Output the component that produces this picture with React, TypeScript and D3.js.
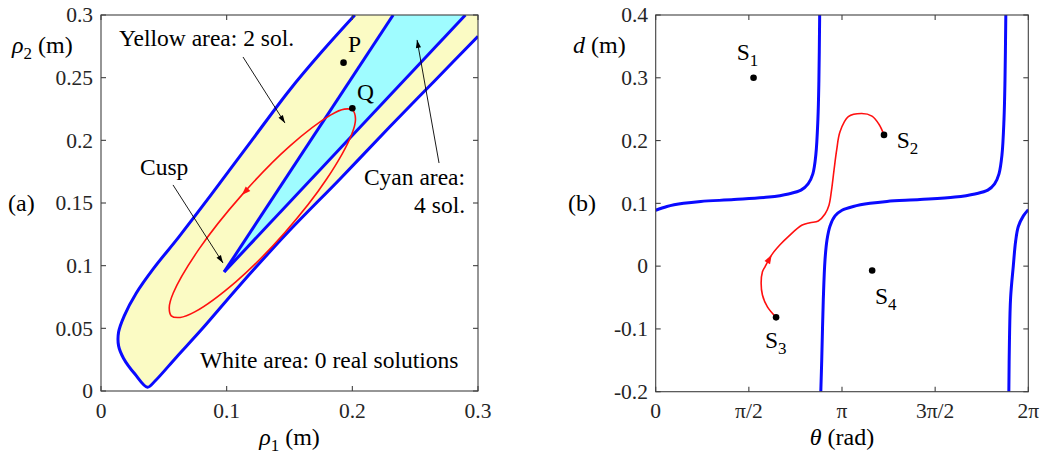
import React from "react";
import * as d3 from "d3";

type P = [number, number];

// ---------- panel (a): rho1 / rho2 (m) ----------
const outerUpper: P[] = [
  [0.202, 0.3], [0.176, 0.271], [0.15, 0.24], [0.12, 0.2], [0.088, 0.157],
  [0.062, 0.123], [0.042, 0.098], [0.028, 0.078], [0.0185, 0.06], [0.014, 0.047],
  [0.014, 0.036], [0.018, 0.026], [0.027, 0.0135], [0.037, 0.003],
];
const outerLower: P[] = [
  [0.043, 0.008], [0.06, 0.027], [0.08, 0.049], [0.111, 0.085], [0.15, 0.128],
  [0.19, 0.169], [0.23, 0.211], [0.265, 0.247], [0.3, 0.283],
];
const cusp: P = [0.098, 0.095];
const cyanUpperTop: P = [0.2325, 0.3];
const cyanLowerTop: P = [0.29, 0.3];

// closed red loop, starting at Q and running down the upper side
const loop: P[] = [
  [0.2003, 0.224], [0.1937, 0.2249], [0.1826, 0.2201], [0.1502, 0.1954],
  [0.112, 0.1563], [0.0781, 0.1134], [0.0575, 0.0782], [0.0543, 0.0665],
  [0.0559, 0.06], [0.063, 0.0587], [0.0746, 0.0631], [0.1075, 0.0873],
  [0.146, 0.1261], [0.1797, 0.1693], [0.1996, 0.2051], [0.2025, 0.2171],
];
const ptP: P = [0.193, 0.262];
const ptQ: P = [0.2, 0.2256];

const aXTicks = [0, 0.1, 0.2, 0.3];
const aYTicks = [0, 0.05, 0.1, 0.15, 0.2, 0.25, 0.3];

// ---------- panel (b): theta (rad) / d (m) ----------
const branchLeft: P[] = [
  [0, 0.089], [0.19, 0.095], [0.47, 0.1], [0.76, 0.103], [1.32, 0.106], [1.91, 0.11],
  [2.24, 0.115], [2.45, 0.121], [2.57, 0.131], [2.65, 0.147], [2.7, 0.177],
  [2.735, 0.233], [2.752, 0.296], [2.765, 0.4],
];
const branchMid: P[] = [
  [2.784, -0.2], [2.8, -0.149], [2.826, -0.054], [2.855, 0.01], [2.889, 0.042],
  [2.94, 0.064], [3.024, 0.08], [3.142, 0.089], [3.332, 0.095], [3.614, 0.1],
  [3.9, 0.103], [4.457, 0.106], [5.047, 0.11], [5.384, 0.115], [5.6, 0.121],
  [5.715, 0.131], [5.789, 0.147], [5.839, 0.177], [5.873, 0.233], [5.89, 0.296],
  [5.904, 0.4],
];
const branchRight: P[] = [
  [5.955, -0.2], [5.965, -0.12], [5.985, -0.05], [6.03, 0.0], [6.07, 0.04],
  [6.115, 0.063], [6.2, 0.08], [6.283, 0.09],
];
const redPath: P[] = [
  [2.03, -0.0816], [1.884, -0.065], [1.8, -0.046], [1.778, -0.027], [1.8, -0.009],
  [1.843, -0.001], [1.956, 0.018], [2.096, 0.034], [2.236, 0.047], [2.462, 0.065],
  [2.602, 0.069], [2.742, 0.072], [2.855, 0.083], [2.922, 0.097], [2.965, 0.121],
  [3.007, 0.153], [3.052, 0.185], [3.108, 0.214], [3.248, 0.238], [3.474, 0.243],
  [3.647, 0.239], [3.765, 0.226], [3.85, 0.209],
];
const sPoints: P[] = [[1.65, 0.3], [3.85, 0.209], [2.03, -0.0816], [3.65, -0.007]];
const sLabels: P[] = [[1.366, 0.328], [4.064, 0.188], [1.843, -0.13], [3.698, -0.06]];

const bXTicks = [0, Math.PI / 2, Math.PI, (3 * Math.PI) / 2, 2 * Math.PI];
const bXTickLabels = ["0", "π/2", "π", "3π/2", "2π"];
const bYTicks = [-0.2, -0.1, 0, 0.1, 0.2, 0.3, 0.4];

// ---------- scales ----------
const xA = d3.scaleLinear().domain([0, 0.3]).range([101, 478]);
const yA = d3.scaleLinear().domain([0, 0.3]).range([391, 15]);
const xB = d3.scaleLinear().domain([0, 2 * Math.PI]).range([655.7, 1028.3]);
const yB = d3.scaleLinear().domain([-0.2, 0.4]).range([391.7, 15]);

const FONT = "Liberation Serif, Times New Roman, serif";
const BLUE = "#0a0aff";
const RED = "#ff1010";
const AXIS = "#404040";

const lineA = d3.line<P>().x((d) => xA(d[0])).y((d) => yA(d[1])).curve(d3.curveCatmullRom.alpha(0.5));
const polyA = d3.line<P>().x((d) => xA(d[0])).y((d) => yA(d[1]));
const loopA = d3.line<P>().x((d) => xA(d[0])).y((d) => yA(d[1])).curve(d3.curveCatmullRomClosed.alpha(0.5));
const lineB = d3.line<P>().x((d) => xB(d[0])).y((d) => yB(d[1])).curve(d3.curveCatmullRom.alpha(0.5));

function head(tip: P, from: P, len: number, half: number) {
  const dx = tip[0] - from[0], dy = tip[1] - from[1];
  const n = Math.hypot(dx, dy) || 1;
  const ux = dx / n, uy = dy / n;
  const bx = tip[0] - ux * len, by = tip[1] - uy * len;
  return `M${tip[0]},${tip[1]}L${bx - uy * half},${by + ux * half}L${bx + uy * half},${by - ux * half}Z`;
}

function Arrow({ from, to }: { from: P; to: P }) {
  const a: P = [xA(from[0]), yA(from[1])];
  const b: P = [xA(to[0]), yA(to[1])];
  return (
    <g>
      <line x1={a[0]} y1={a[1]} x2={b[0]} y2={b[1]} stroke="#000" strokeWidth={0.9} />
      <path d={head(b, a, 8, 2.6)} fill="#000" />
    </g>
  );
}

function Frame({ x, y, xt, yt }: { x: any; y: any; xt: number[]; yt: number[] }) {
  const [x0, x1] = x.range();
  const [y0, y1] = y.range();
  const t = 5;
  return (
    <g stroke={AXIS} strokeWidth={1.1} fill="none">
      <rect x={x0} y={y1} width={x1 - x0} height={y0 - y1} />
      {xt.map((v, i) => (
        <g key={"x" + i}>
          <line x1={x(v)} x2={x(v)} y1={y0} y2={y0 - t} />
          <line x1={x(v)} x2={x(v)} y1={y1} y2={y1 + t} />
        </g>
      ))}
      {yt.map((v, i) => (
        <g key={"y" + i}>
          <line x1={x0} x2={x0 + t} y1={y(v)} y2={y(v)} />
          <line x1={x1} x2={x1 - t} y1={y(v)} y2={y(v)} />
        </g>
      ))}
    </g>
  );
}

export default function App() {
  const outer = [...outerUpper, ...outerLower];
  const last = outerLower[outerLower.length - 1];
  const first = outerUpper[0];
  const yellowD =
    lineA(outer) + `L${xA(last[0]) + 2},${yA(last[1])}L${xA(last[0]) + 2},${yA(first[1]) - 2}L${xA(first[0])},${yA(first[1]) - 2}Z`;
  const cyanD = polyA([cusp, cyanUpperTop, cyanLowerTop]) + "Z";

  const la: P = [xA(loop[4][0]), yA(loop[4][1])];
  const lb: P = [xA(loop[3][0]), yA(loop[3][1])];
  const ra: P = [xB(redPath[6][0]), yB(redPath[6][1])];
  const rb: P = [xB(redPath[5][0]), yB(redPath[5][1])];

  const tickFs = 21.5;
  const annFs = 23.5;
  const labFs = 24;

  return (
    <svg width={1048} height={457} style={{ position: "absolute", left: 0, top: 0, background: "#fff", fontFamily: FONT }}>
      <defs>
        <clipPath id="clipA">
          <rect x={101} y={15} width={377} height={376} />
        </clipPath>
        <clipPath id="clipB">
          <rect x={655.7} y={15} width={372.6} height={376.7} />
        </clipPath>
      </defs>

      {/* ---------- panel (a) ---------- */}
      <g clipPath="url(#clipA)">
        <path d={yellowD} fill="#fbfbc4" />
        <path d={cyanD} fill="#9ffcff" />
        <path d={lineA(outer) ?? ""} fill="none" stroke={BLUE} strokeWidth={3} strokeLinejoin="round" />
        <path d={polyA([cusp, cyanUpperTop]) ?? ""} fill="none" stroke={BLUE} strokeWidth={3} />
        <path d={polyA([cusp, cyanLowerTop]) ?? ""} fill="none" stroke={BLUE} strokeWidth={3} />
        <path d={loopA(loop) ?? ""} fill="none" stroke={RED} strokeWidth={1.6} />
        <path d={head(la, lb, 9, 3.2)} fill={RED} />
      </g>
      <circle cx={xA(ptP[0])} cy={yA(ptP[1])} r={3.3} fill="#000" />
      <circle cx={xA(ptQ[0])} cy={yA(ptQ[1])} r={3.3} fill="#000" />
      <Frame x={xA} y={yA} xt={aXTicks} yt={aYTicks} />

      <g fontSize={annFs} fill="#000">
        <text x={xA(0.0143)} y={yA(0.2753)}>Yellow area: 2 sol.</text>
        <text x={xA(0.031)} y={yA(0.1723)}>Cusp</text>
        <text x={xA(0.2897)} y={yA(0.1644)} textAnchor="end">Cyan area:</text>
        <text x={xA(0.2897)} y={yA(0.142)} textAnchor="end">4 sol.</text>
        <text x={xA(0.0788)} y={yA(0.0184)}>White area: 0 real solutions</text>
        <text x={xA(0.1966)} y={yA(0.2705)}>P</text>
        <text x={xA(0.2037)} y={yA(0.2325)}>Q</text>
      </g>
      <Arrow from={[0.113, 0.2665]} to={[0.1464, 0.2138]} />
      <Arrow from={[0.0573, 0.1644]} to={[0.0971, 0.1021]} />
      <Arrow from={[0.269, 0.1819]} to={[0.2515, 0.2801]} />

      <g fontSize={tickFs} fill="#262626">
        {aYTicks.map((v) => (
          <text key={v} x={93} y={yA(v)} dy="0.34em" textAnchor="end">{String(v)}</text>
        ))}
        {aXTicks.map((v) => (
          <text key={v} x={xA(v)} y={418} textAnchor="middle">{String(v)}</text>
        ))}
      </g>
      <g fontSize={labFs} fill="#000">
        <text x={12} y={53}>
          <tspan fontStyle="italic">ρ</tspan>
          <tspan fontSize={17} dy={6}>2</tspan>
          <tspan dy={-6}> (m)</tspan>
        </text>
        <text x={xA(0.15)} y={445} textAnchor="middle">
          <tspan fontStyle="italic">ρ</tspan>
          <tspan fontSize={17} dy={6}>1</tspan>
          <tspan dy={-6}> (m)</tspan>
        </text>
        <text x={8} y={211}>(a)</text>
      </g>

      {/* ---------- panel (b) ---------- */}
      <g clipPath="url(#clipB)">
        {[branchLeft, branchMid, branchRight].map((b, i) => (
          <path key={i} d={lineB(b) ?? ""} fill="none" stroke={BLUE} strokeWidth={3} />
        ))}
        <path d={lineB(redPath) ?? ""} fill="none" stroke={RED} strokeWidth={1.6} />
        <path d={head(ra, rb, 9, 3.2)} fill={RED} />
      </g>
      {sPoints.map((p, i) => (
        <circle key={i} cx={xB(p[0])} cy={yB(p[1])} r={3.3} fill="#000" />
      ))}
      <Frame x={xB} y={yB} xt={bXTicks} yt={bYTicks} />
      <g fontSize={annFs} fill="#000">
        {sLabels.map((p, i) => (
          <text key={i} x={xB(p[0])} y={yB(p[1])}>
            S<tspan fontSize={17} dy={6}>{i + 1}</tspan>
          </text>
        ))}
      </g>
      <g fontSize={tickFs} fill="#262626">
        {bYTicks.map((v) => (
          <text key={v} x={648} y={yB(v)} dy="0.34em" textAnchor="end">{String(v)}</text>
        ))}
        {bXTicks.map((v, i) => (
          <text key={i} x={xB(v)} y={418} textAnchor="middle">{bXTickLabels[i]}</text>
        ))}
      </g>
      <g fontSize={labFs} fill="#000">
        <text x={573} y={53}>
          <tspan fontStyle="italic">d</tspan> (m)
        </text>
        <text x={xB(Math.PI)} y={445} textAnchor="middle">
          <tspan fontStyle="italic">θ</tspan> (rad)
        </text>
        <text x={568} y={211}>(b)</text>
      </g>
    </svg>
  );
}
